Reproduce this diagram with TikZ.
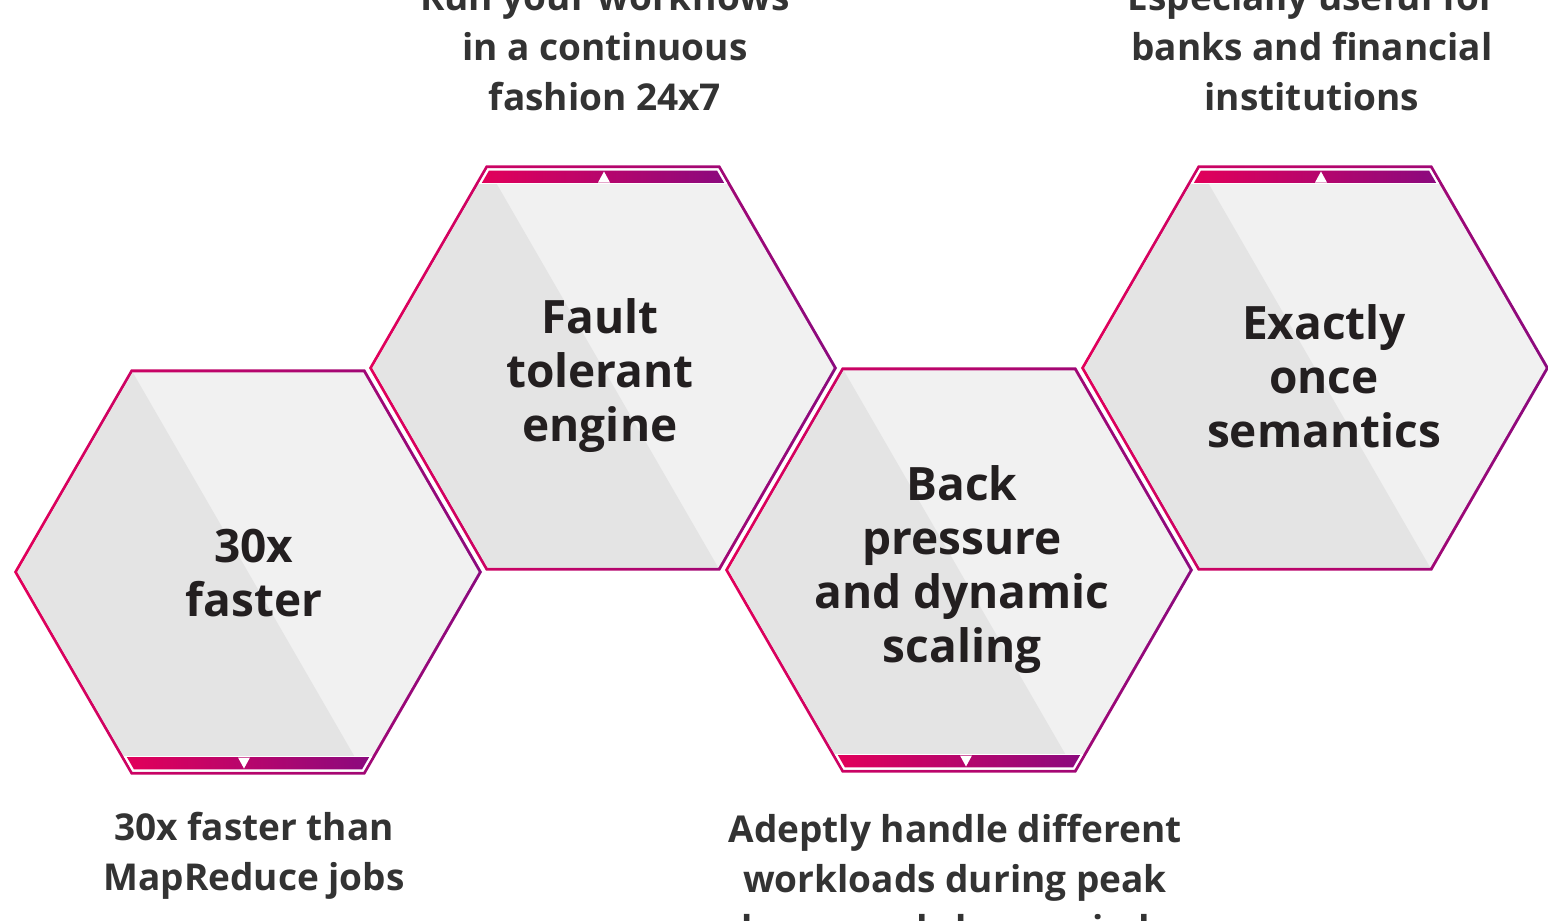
\documentclass[tikz,border=0pt]{standalone}
\usepackage{fontspec}
\setmainfont{Open Sans}
\usepackage{tikz}
\definecolor{hexpink}{HTML}{E2005A}
\definecolor{hexpurple}{HTML}{8B0A7E}
\definecolor{hexdark}{HTML}{E4E4E4}
\definecolor{hexlight}{HTML}{F1F1F1}
\definecolor{hextext}{HTML}{231F20}
\definecolor{captext}{HTML}{333333}
\tikzset{
  hextitle/.style={align=center, text=hextext, anchor=base, font=\fontsize{46}{54}\selectfont\bfseries},
  caption/.style={align=center, text=captext, anchor=base, font=\fontsize{37}{50}\selectfont\bfseries}
}
\newcommand\hexshape[1]{(0:#1) -- (60:#1) -- (120:#1) -- (180:#1) -- (240:#1) -- (300:#1) -- cycle}

\begin{document}
\begin{tikzpicture}[x=1pt,y=-1pt]
                \useasboundingbox (0,0) rectangle (1548,921);
                \clip (0,0) rectangle (1548,921);
                \foreach \cx/\cy/\side/\tip in {248/572/1/-4, 603/368/-1/1, 959/570/1/7, 1315/368/-1/6}{
                    \begin{scope}[shift={(\cx,\cy)}]
                        \shade[left color=hexpink, right color=hexpurple] \hexshape{234};
                        \fill[hexlight] \hexshape{230.6};
                        \begin{scope}
                            \clip \hexshape{230.6};
                            \fill[hexdark] (240:234) -- (180:234) -- (120:234) -- (60:234) -- cycle;
                            \fill[white] (-240,\side*184) rectangle (240,\side*205);
                        \end{scope}
                        \begin{scope}
                            \clip \hexshape{228};
                            \shade[left color=hexpink, right color=hexpurple] (-122,\side*185.5) rectangle (122,\side*199);
                        \end{scope}
                        \fill[white] (\tip-6,\side*185.5) -- (\tip+6,\side*185.5) -- (\tip,\side*196.5) -- cycle;
                    \end{scope}
                }
                \node[hextitle] (fast) at (254,616) {30x\\faster};
                \node[hextitle] (fault) at (600,441) {Fault\\tolerant\\engine};
                \node[hextitle] (pressure) at (962,662) {Back\\pressure\\and dynamic\\scaling};
                \node[hextitle] (exactly) at (1324,447) {Exactly\\once\\semantics};
                \node[caption] (fast-note) at (254,890) {30x faster than\\MapReduce jobs};
                \node[caption] (fault-note) at (605,110) {Run your workflows\\in a continuous\\fashion 24x7};
                \node[caption] (pressure-note) at (955,942) {Adeptly handle different\\workloads during peak\\hours and slow periods};
                \node[caption] (exactly-note) at (1312,110) {Especially useful for\\banks and financial\\institutions};
            \end{tikzpicture}
\end{document}
